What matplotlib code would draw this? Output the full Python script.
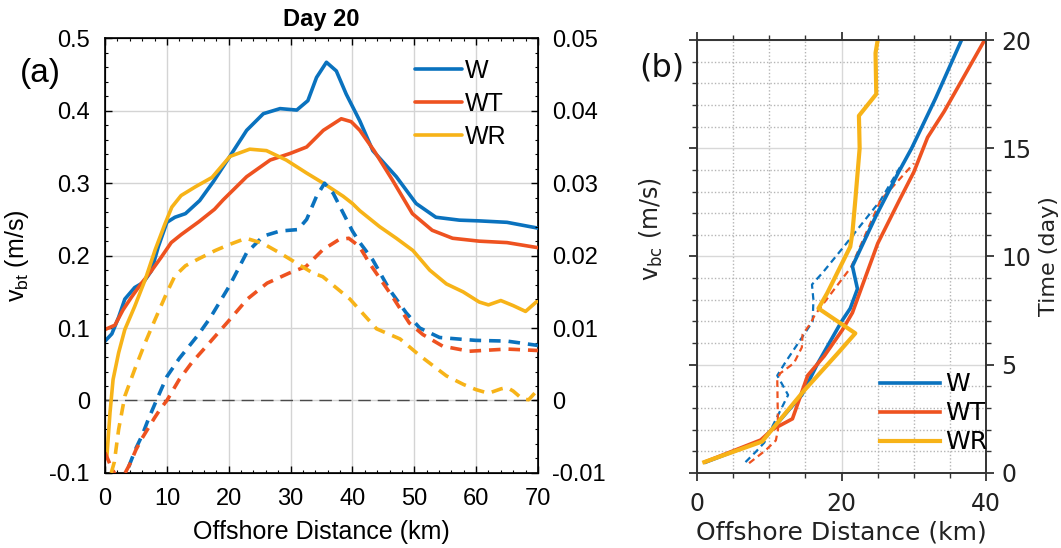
import numpy as np
import matplotlib
matplotlib.use("Agg")
import matplotlib.pyplot as plt
from matplotlib.ticker import MultipleLocator

plt.rcParams["font.family"] = ["Liberation Sans", "DejaVu Sans"]

# Run colours (MATLAB-like default order)
C_W = "#0A72BE"
C_WT = "#EE5220"
C_WR = "#F7B318"

# (a) cross-shore profiles at day 20
# solid: v_bt on the left axis (m/s)
bt_w_km = [0, 1.1, 2.2, 3.2, 4.8, 6.2, 7.5, 8.6, 10, 11.3, 13, 15.3, 17.5, 20.1,
           22.9, 25.6, 28.3, 31.0, 32.8, 34.2, 35.8, 37.4, 39.0, 41.2, 43.3,
           47.1, 50.3, 53.5, 57.3, 60.5, 65, 70]
bt_w = [0.082, 0.092, 0.115, 0.14, 0.156, 0.163, 0.179, 0.212, 0.246, 0.253,
        0.258, 0.276, 0.302, 0.336, 0.373, 0.396, 0.403, 0.401, 0.414, 0.446,
        0.467, 0.455, 0.423, 0.386, 0.345, 0.309, 0.272, 0.253, 0.249, 0.248,
        0.246, 0.238]

bt_wt_km = [0, 1.6, 2.9, 4.3, 5.9, 7.5, 9.1, 10.7, 12.3, 15.2, 17.7, 19.1, 22.9,
            26.7, 29.9, 32.6, 35.3, 38.2, 39.8, 41.2, 43.5, 46.5, 49.7, 52.9,
            56.2, 60.5, 65, 70]
bt_wt = [0.098, 0.104, 0.125, 0.143, 0.162, 0.179, 0.198, 0.218, 0.229, 0.247,
         0.264, 0.277, 0.309, 0.332, 0.341, 0.35, 0.373, 0.389, 0.385, 0.373,
         0.345, 0.304, 0.258, 0.235, 0.224, 0.22, 0.218, 0.211]

bt_wr_km = [0.3, 0.8, 1.3, 2.2, 3.2, 4.8, 6.5, 8.1, 9.7, 10.8, 12.3, 14.6, 17.3,
            20.2, 23.4, 26.1, 29.3, 32.6, 35.3, 38.5, 40, 41.2, 44.4, 47.1,
            49.8, 52.5, 55.2, 57.9, 60.5, 62, 64, 66, 68, 70]
bt_wr = [-0.077, -0.017, 0.029, 0.066, 0.098, 0.13, 0.167, 0.208, 0.244, 0.267,
         0.283, 0.295, 0.308, 0.337, 0.347, 0.345, 0.332, 0.314, 0.3, 0.282,
         0.272, 0.262, 0.24, 0.224, 0.207, 0.18, 0.161, 0.15, 0.136, 0.132,
         0.138, 0.131, 0.123, 0.138]

# dashed: right axis (m/s)
bc_w_km = [3.8, 5, 6, 7, 8.3, 10, 12, 15, 17, 20.1, 22.9, 25.6, 28.3, 31.2,
           32.6, 34.2, 35.5, 36.9, 38.5, 40, 41.2, 43.3, 46, 48.7, 50.9, 54.1,
           58.4, 60, 65, 70]
bc_w = [-0.0092, -0.0066, -0.0048, -0.0026, 0.0, 0.0033, 0.0058, 0.009, 0.0114,
        0.0158, 0.0204, 0.0227, 0.0234, 0.0236, 0.025, 0.0282, 0.030, 0.0286,
        0.0259, 0.0234, 0.0218, 0.0194, 0.0153, 0.0121, 0.010, 0.0087, 0.0084,
        0.0083, 0.0082, 0.0076]

bc_wt_km = [0, 1, 2, 3, 4, 5, 6, 7, 8, 9, 10, 12, 14, 16.4, 20, 23, 26.2, 29.8,
            32.5, 35.2, 37.8, 39.4, 41.1, 42.8, 46.5, 49.2, 51.4, 54.6, 58.9,
            65, 70]
bc_wt = [-0.0072, -0.0092, -0.0108, -0.0104, -0.0088, -0.0068, -0.0052,
         -0.0038, -0.0024, -0.0011, 0.0, 0.0029, 0.0052, 0.0075, 0.011, 0.014,
         0.0162, 0.0176, 0.0185, 0.0208, 0.0222, 0.0224, 0.0213, 0.0189,
         0.0143, 0.0107, 0.0091, 0.0075, 0.0068, 0.0071, 0.0069]

bc_wr_km = [1.0, 1.5, 2.2, 3.2, 4.8, 6.5, 8.1, 10, 11.3, 13, 15, 17.8, 20, 22.8,
            25.5, 28.2, 30.9, 33.6, 35.2, 39.6, 43.9, 47.7, 50.9, 55.2, 58, 60,
            62, 64, 65, 66, 67.5, 68.5, 70]
bc_wr = [-0.010, -0.0085, -0.004, 0.0006, 0.0043, 0.008, 0.0112, 0.0149,
         0.0172, 0.0186, 0.0195, 0.0207, 0.0215, 0.0224, 0.0217, 0.0204, 0.019,
         0.0176, 0.0171, 0.014, 0.0099, 0.0085, 0.0062, 0.0034, 0.0022, 0.0015,
         0.001, 0.0016, 0.0018, 0.0013, 0.0002, 0.0001, 0.0015]

# (b) front position vs time
b_w_km = [1.2, 9.0, 10.6, 14.5, 16.6, 20.0, 21.2, 22.2, 21.5, 24.8, 27.9, 29.7,
          33.0, 36.6]
b_w_day = [0.5, 1.5, 2.1, 3.6, 5.0, 7.0, 7.6, 8.5, 9.55, 11.9, 13.9, 15.0,
           17.3, 20.0]
b_wt_km = [1.2, 8.8, 10.4, 13.2, 15.3, 17.6, 20.1, 21.5, 22.7, 25.0, 28.0,
           30.0, 31.9, 34.2, 39.8]
b_wt_day = [0.52, 1.52, 2.0, 2.5, 4.5, 5.4, 6.6, 7.4, 8.5, 10.6, 12.6, 13.9,
            15.5, 16.7, 20.0]
b_wr_km = [1.0, 9.0, 10.6, 14.8, 19.4, 21.9, 16.8, 18.0, 21.2, 21.5, 21.9,
           22.5, 22.4, 24.8, 24.7, 25.0]
b_wr_day = [0.5, 1.45, 2.1, 3.8, 5.5, 6.45, 7.6, 8.3, 10.45, 11.1, 12.6, 15.0,
            16.5, 17.5, 19.4, 20.0]

b_w_dash_km = [6.7, 8.2, 9.3, 12.6, 11.1, 12.2, 16.0, 16.1, 15.9, 17.5, 20.3,
               25.4, 28.4]
b_w_dash_day = [0.5, 1.0, 1.4, 3.6, 4.5, 5.1, 7.0, 8.0, 8.7, 9.3, 10.45, 12.6,
                14.3]
b_wt_dash_km = [7.2, 9.5, 10.9, 11.2, 11.1, 11.5, 13.4, 14.5, 14.6, 15.7, 16.3,
                21.3, 25.4, 30.0]
b_wt_dash_day = [0.45, 1.05, 1.5, 2.0, 4.3, 4.6, 5.07, 5.8, 6.4, 6.9, 7.3, 9.5,
                 12.6, 14.3]

RUNS = ["W", "WT", "WR"]
COLORS = [C_W, C_WT, C_WR]

fig = plt.figure(figsize=(10.61, 5.48), dpi=100)

# ---------------- panel (a) ----------------
FA = "Liberation Sans"
ax = fig.add_axes([0.099, 0.137, 0.408, 0.793])
ax.set_xlim(0, 70)
ax.set_ylim(-0.1, 0.5)
ax.grid(True, color="#d4d4d4", lw=1.0)
ax.axhline(0, color="#4a4a4a", lw=1.0, ls=(0, (9, 5)), zorder=2)

solid = [(bt_w_km, bt_w), (bt_wt_km, bt_wt), (bt_wr_km, bt_wr)]
for (xk, yv), c, name in zip(solid, COLORS, RUNS):
    ax.plot(xk, yv, color=c, lw=2.6, label=name, solid_capstyle="round",
            zorder=3)

ax.set_xticks(range(0, 71, 10), [str(v) for v in range(0, 71, 10)],
              fontsize=17, fontfamily=FA)
yt = [-0.1, 0, 0.1, 0.2, 0.3, 0.4, 0.5]
ax.set_yticks(yt, ["-0.1", "0", "0.1", "0.2", "0.3", "0.4", "0.5"],
              fontsize=17, fontfamily=FA)
ax.xaxis.set_minor_locator(MultipleLocator(2))
ax.yaxis.set_minor_locator(MultipleLocator(0.02))
ax.tick_params(which="both", direction="in", top=True, right=False)
ax.tick_params(which="major", length=5, width=1.0)
ax.tick_params(which="minor", length=2.5, width=0.8)
ax.tick_params(axis="x", pad=11)
ax.tick_params(axis="y", pad=11)
for s in ax.spines.values():
    s.set_linewidth(1.2)

ax.set_xlabel("Offshore Distance (km)", fontsize=18, fontfamily=FA, labelpad=7)
ax.set_ylabel(r"v$_\mathregular{bt}$ (m/s)", fontsize=18, fontfamily=FA)
ax.yaxis.set_label_coords(-0.17, 0.5)
ax.set_title("Day 20", fontsize=17, fontweight="bold", fontfamily=FA, pad=9)

axr = ax.twinx()
axr.set_ylim(-0.01, 0.05)
dashed = [(bc_w_km, bc_w), (bc_wt_km, bc_wt), (bc_wr_km, bc_wr)]
for (xk, yv), c in zip(dashed, COLORS):
    axr.plot(xk, yv, color=c, lw=2.6, ls=(0, (3.2, 2.2)))
axr.set_yticks([-0.01, 0, 0.01, 0.02, 0.03, 0.04, 0.05],
               ["-0.01", "0", "0.01", "0.02", "0.03", "0.04", "0.05"],
               fontsize=17, fontfamily=FA)
axr.yaxis.set_minor_locator(MultipleLocator(0.002))
axr.tick_params(which="both", direction="in", pad=10)
axr.tick_params(which="major", length=5, width=1.0)
axr.tick_params(which="minor", length=2.5, width=0.8)

ax.legend(loc="upper left", bbox_to_anchor=(0.716, 0.952), frameon=False,
          prop={"family": FA, "size": 18}, handlelength=1.9,
          handletextpad=0.1, labelspacing=0.35, borderpad=0,
          borderaxespad=0)

fig.text(0.038, 0.866, "(a)", fontsize=24, fontfamily=FA, ha="center",
         va="center")

# ---------------- panel (b) ----------------
FB = "DejaVu Sans"
bx = fig.add_axes([0.657, 0.137, 0.2724, 0.790])
bx.set_xlim(0, 40)
bx.set_ylim(0, 20)
bx.xaxis.set_minor_locator(MultipleLocator(5))
bx.yaxis.set_minor_locator(MultipleLocator(1))
bx.grid(True, which="major", color="#d8d8d8", lw=1.0)
bx.grid(True, which="minor", color="#b5b5b5", lw=1.0, ls=(0, (1, 1.5)))
bx.set_axisbelow(True)

for xk, td, c in zip([b_w_dash_km, b_wt_dash_km], [b_w_dash_day, b_wt_dash_day],
                     [C_W, C_WT]):
    bx.plot(xk, td, color=c, lw=1.6, ls=(0, (3, 2)))
b_lines = [(b_w_km, b_w_day), (b_wt_km, b_wt_day), (b_wr_km, b_wr_day)]
for (xk, td), c, name, w in zip(b_lines, COLORS, RUNS, [2.6, 2.6, 3.0]):
    bx.plot(xk, td, color=c, lw=w, label=name)

bx.set_xticks([0, 20, 40], ["0", "20", "40"], fontsize=17, fontfamily=FB)
bx.set_yticks([0, 5, 10, 15, 20], ["0", "5", "10", "15", "20"], fontsize=17,
              fontfamily=FB)
bx.tick_params(which="both", direction="out", top=True, left=True, right=True,
               labelleft=False, labelright=True, color="#333333",
               labelcolor="#222222")
bx.tick_params(which="major", length=6, width=1.3)
bx.tick_params(which="minor", length=3.5, width=1.0)
bx.tick_params(axis="x", pad=8)
bx.tick_params(axis="y", pad=5)
for s in bx.spines.values():
    s.set_linewidth(1.4)
    s.set_color("#333333")

bx.set_xlabel("Offshore Distance (km)", fontsize=18, fontfamily=FB,
              color="#222222", labelpad=3)
bx.yaxis.set_label_position("right")
bx.set_ylabel("Time (day)", fontsize=16, fontfamily=FB, color="#222222")
bx.yaxis.set_label_coords(1.183, 0.5)

bx.legend(loc="upper left", bbox_to_anchor=(0.633, 0.232), frameon=False,
          prop={"family": FB, "size": 18}, handlelength=2.4,
          handletextpad=0.2, labelspacing=0.2, borderpad=0,
          borderaxespad=0)

fig.text(0.614, 0.582, r"v$_\mathregular{bc}$ (m/s)", fontsize=17,
         fontfamily=FB, rotation=90, ha="center", va="center",
         color="#222222")
fig.text(0.624, 0.876, "(b)", fontsize=23, fontfamily=FB, ha="center",
         va="center", color="#111111")

fig.savefig("out.png", dpi=100)
